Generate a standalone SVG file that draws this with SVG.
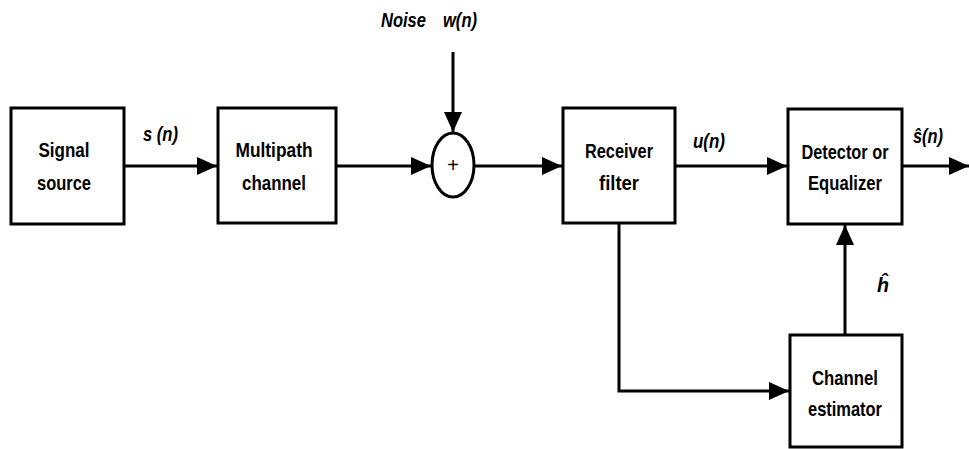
<svg xmlns="http://www.w3.org/2000/svg" width="969" height="449" viewBox="0 0 969 449">
<style>
.box{fill:#fff;stroke:#000;stroke-width:3}
.wire{fill:none;stroke:#000;stroke-width:3}
.lbl{font-family:"Liberation Sans",Arial,sans-serif;font-weight:bold;font-size:21px;fill:#000;text-anchor:middle}
.sig{font-family:"Liberation Sans",Arial,sans-serif;font-weight:bold;font-style:italic;font-size:21px;fill:#000}
</style>
<defs>
<marker id="ah" markerUnits="userSpaceOnUse" markerWidth="22" markerHeight="18" refX="20" refY="9" orient="auto">
<path d="M0,0 L20,9 L0,18 Z" fill="#000"/>
</marker>
</defs>
<rect width="969" height="449" fill="#fff"/>
<g id="connectors">
<line class="wire" x1="124" y1="166" x2="217" y2="166" marker-end="url(#ah)"/>
<line class="wire" x1="336" y1="166" x2="431" y2="166" marker-end="url(#ah)"/>
<line class="wire" x1="453" y1="52" x2="453" y2="132" marker-end="url(#ah)"/>
<line class="wire" x1="474" y1="166" x2="562" y2="166" marker-end="url(#ah)"/>
<line class="wire" x1="675" y1="166" x2="787" y2="166" marker-end="url(#ah)"/>
<line class="wire" x1="902" y1="166" x2="969" y2="166" marker-end="url(#ah)"/>
<polyline class="wire" points="619,223 619,391 789,391" marker-end="url(#ah)"/>
<line class="wire" x1="845" y1="335" x2="845" y2="225" marker-end="url(#ah)"/>
</g>
<g id="signal-source">
<rect class="box" x="11" y="108" width="113" height="116"/>
<text class="lbl" x="64" y="157" textLength="51" lengthAdjust="spacingAndGlyphs">Signal</text>
<text class="lbl" x="64" y="190" textLength="54" lengthAdjust="spacingAndGlyphs">source</text>
</g>
<g id="multipath-channel">
<rect class="box" x="218" y="108" width="118" height="115"/>
<text class="lbl" x="274" y="157" textLength="77" lengthAdjust="spacingAndGlyphs">Multipath</text>
<text class="lbl" x="274" y="190" textLength="64" lengthAdjust="spacingAndGlyphs">channel</text>
</g>
<g id="adder">
<ellipse class="box" cx="453" cy="165" rx="21" ry="32"/>
<text x="453" y="172" font-family="Liberation Sans,Arial,sans-serif" font-size="20" text-anchor="middle">+</text>
</g>
<g id="receiver-filter">
<rect class="box" x="563" y="108" width="112" height="115"/>
<text class="lbl" x="619" y="158" textLength="68" lengthAdjust="spacingAndGlyphs">Receiver</text>
<text class="lbl" x="619" y="190" textLength="40" lengthAdjust="spacingAndGlyphs">filter</text>
</g>
<g id="detector-equalizer">
<rect class="box" x="788" y="109" width="114" height="115"/>
<text class="lbl" x="845" y="159" textLength="87" lengthAdjust="spacingAndGlyphs">Detector or</text>
<text class="lbl" x="845" y="190" textLength="74" lengthAdjust="spacingAndGlyphs">Equalizer</text>
</g>
<g id="channel-estimator">
<rect class="box" x="790" y="335" width="112" height="112"/>
<text class="lbl" x="845" y="385" textLength="66" lengthAdjust="spacingAndGlyphs">Channel</text>
<text class="lbl" x="845" y="416" textLength="74" lengthAdjust="spacingAndGlyphs">estimator</text>
</g>
<g id="labels">
<text class="sig" x="381" y="27" font-size="23" textLength="45" lengthAdjust="spacingAndGlyphs">Noise</text>
<text class="sig" x="443" y="27" font-size="23" textLength="34" lengthAdjust="spacingAndGlyphs">w(n)</text>
<text class="sig" x="143" y="141" textLength="35" lengthAdjust="spacingAndGlyphs">s (n)</text>
<text class="sig" x="693" y="148" textLength="32" lengthAdjust="spacingAndGlyphs">u(n)</text>
<text class="sig" x="913" y="143" textLength="30" lengthAdjust="spacingAndGlyphs">ŝ(n)</text>
<text class="sig" x="877" y="292" textLength="12" lengthAdjust="spacingAndGlyphs">ĥ</text>
</g>
</svg>
